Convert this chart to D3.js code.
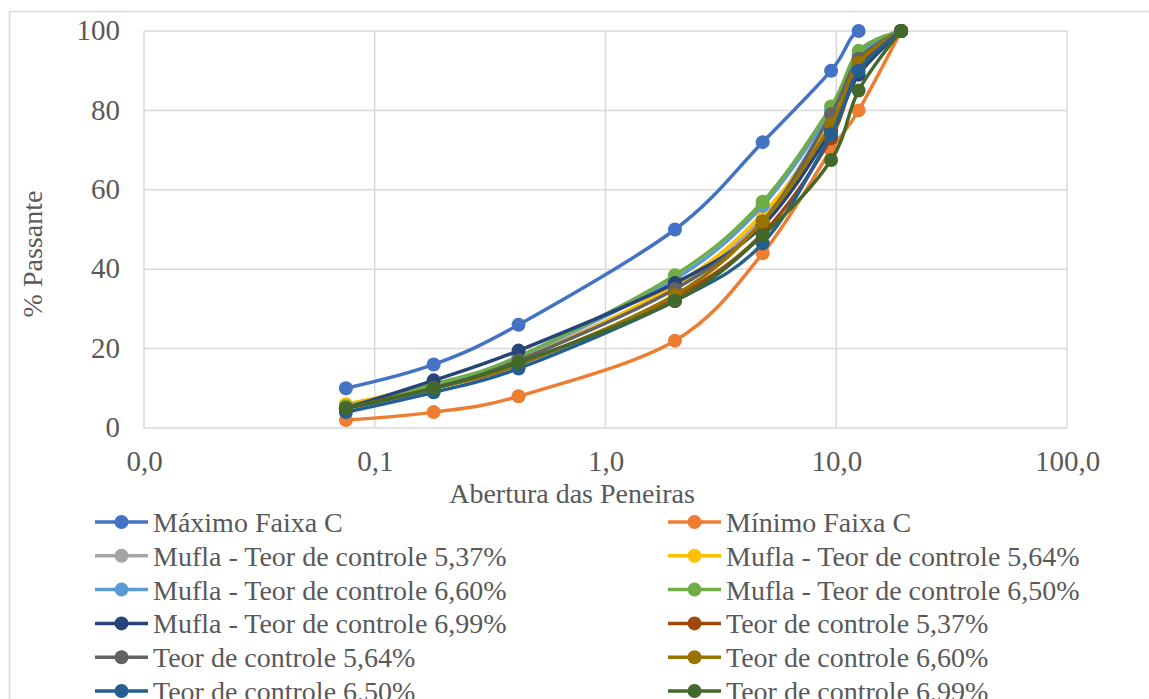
<!DOCTYPE html>
<html><head><meta charset="utf-8">
<script src="https://cdn.jsdelivr.net/npm/d3@7"></script>
<style>
html,body{margin:0;padding:0;background:#fff;}
svg text{font-family:"Liberation Serif","Tinos","Times New Roman","DejaVu Serif",serif !important;fill:#595959;}
</style>
</head><body>
<svg id="chart" width="1149" height="699"></svg>
<script>
const sieves = [0.075, 0.18, 0.42, 2.0, 4.8, 9.5, 12.5, 19.1];
const xTickValues = [0.01, 0.1, 1, 10, 100];
const xTickLabels = ["0,0", "0,1", "1,0", "10,0", "100,0"];
const yTickValues = [0, 20, 40, 60, 80, 100];

const seriesNames = [
  "Máximo Faixa C", "Mínimo Faixa C",
  "Mufla - Teor de controle 5,37%", "Mufla - Teor de controle 5,64%",
  "Mufla - Teor de controle 6,60%", "Mufla - Teor de controle 6,50%",
  "Mufla - Teor de controle 6,99%", "Teor de controle 5,37%",
  "Teor de controle 5,64%", "Teor de controle 6,60%",
  "Teor de controle 6,50%", "Teor de controle 6,99%"
];
const seriesColors = [
  "#4472C4", "#ED7D31", "#A5A5A5", "#FFC000", "#5B9BD5", "#70AD47",
  "#264478", "#9E480E", "#636363", "#997300", "#255E91", "#43682B"
];
const maximoFaixaC   = [10, 16, 26, 50, 72, 90, 100, 100];
const minimoFaixaC   = [2, 4, 8, 22, 44, 70, 80, 100];
const mufla537       = [5, 10.5, 17.5, 35.5, 53, 79, 93, 100];
const mufla564       = [6, 11, 17, 36, 54, 77, 93, 100];
const mufla660       = [5, 10.5, 18, 37.5, 56, 80, 94, 100];
const mufla650       = [5.5, 11, 18, 38.5, 57, 81, 95, 100];
const mufla699       = [5, 12, 19.5, 36.5, 51, 75, 89, 100];
const teor537        = [5, 10, 16, 33, 49, 73, 91, 100];
const teor564        = [5, 10, 17, 35, 52, 79, 93, 100];
const teor660        = [5, 10, 16, 33.5, 52, 76.5, 92, 100];
const teor650        = [4, 9, 15, 32, 46.5, 74, 90, 100];
const teor699        = [5, 10, 16.5, 32, 48.5, 67.5, 85, 100];
const seriesValues = [maximoFaixaC, minimoFaixaC, mufla537, mufla564, mufla660, mufla650,
  mufla699, teor537, teor564, teor660, teor650, teor699];

const svg = d3.select("#chart");
const pL = 144, pR = 1067, pT = 31, pB = 428;

svg.append("rect").attr("x", 9.5).attr("y", 11.5).attr("width", 1160).attr("height", 720)
  .attr("fill", "none").attr("stroke", "#d9d9d9").attr("stroke-width", 1.5);

const x = d3.scaleLog().domain([0.01, 100]).range([pL, pR]);
const y = d3.scaleLinear().domain([0, 100]).range([pB, pT]);

svg.append("g").selectAll("line").data(yTickValues).join("line")
  .attr("x1", pL).attr("x2", pR).attr("y1", d => y(d)).attr("y2", d => y(d))
  .attr("stroke", "#d9d9d9").attr("stroke-width", 1.5);
svg.append("g").selectAll("line").data(xTickValues).join("line")
  .attr("y1", pT).attr("y2", pB).attr("x1", d => x(d)).attr("x2", d => x(d))
  .attr("stroke", "#d9d9d9").attr("stroke-width", 1.5);

const yAxis = svg.append("g").attr("transform", `translate(${pL},0)`)
  .call(d3.axisLeft(y).tickValues(yTickValues).tickSize(0).tickPadding(24));
yAxis.select(".domain").remove();
yAxis.attr("font-family", null).attr("font-size", null);
yAxis.selectAll("text").attr("font-size", 29).attr("dy", "0.3em");

const xAxis = svg.append("g").attr("transform", `translate(0,${pB})`)
  .call(d3.axisBottom(x).tickValues(xTickValues).tickFormat((d, i) => xTickLabels[i]).tickSize(0).tickPadding(22));
xAxis.select(".domain").remove();
xAxis.attr("font-family", null).attr("font-size", null);
xAxis.selectAll("text").attr("font-size", 29);

svg.append("text").attr("x", 572).attr("y", 503)
  .attr("text-anchor", "middle").attr("font-size", 28).text("Abertura das Peneiras");
svg.append("text").attr("transform", `translate(42,${254}) rotate(-90)`)
  .attr("text-anchor", "middle").attr("font-size", 28).text("% Passante");

svg.append("clipPath").attr("id", "plotclip").append("rect")
  .attr("x", pL).attr("y", pT).attr("width", pR - pL).attr("height", pB - pT);

const line = d3.line().x(d => x(d[0])).y(d => y(d[1])).curve(d3.curveCardinal.tension(0));

const seriesG = svg.append("g");
seriesValues.forEach((vals, i) => {
  const pts = sieves.map((s, j) => [s, vals[j]]);
  const g = seriesG.append("g");
  g.append("path").datum(pts).attr("d", line).attr("fill", "none")
    .attr("stroke", seriesColors[i]).attr("stroke-width", 3.5)
    .attr("clip-path", "url(#plotclip)");
  g.selectAll("circle").data(pts).join("circle")
    .attr("cx", d => x(d[0])).attr("cy", d => y(d[1])).attr("r", 7)
    .attr("fill", seriesColors[i]);
});

const legend = svg.append("g");
seriesNames.forEach((name, i) => {
  const col = i % 2, row = Math.floor(i / 2);
  const lx = col === 0 ? 95 : 668;
  const ly = 522 + row * 33.8;
  const g = legend.append("g").attr("transform", `translate(${lx},${ly})`);
  g.append("line").attr("x1", 0).attr("x2", 53).attr("y1", 0).attr("y2", 0)
    .attr("stroke", seriesColors[i]).attr("stroke-width", 3.5);
  g.append("circle").attr("cx", 26.5).attr("cy", 0).attr("r", 7).attr("fill", seriesColors[i]);
  g.append("text").attr("x", 58).attr("y", 10).attr("font-size", 28).text(name);
});
</script>
</body></html>
